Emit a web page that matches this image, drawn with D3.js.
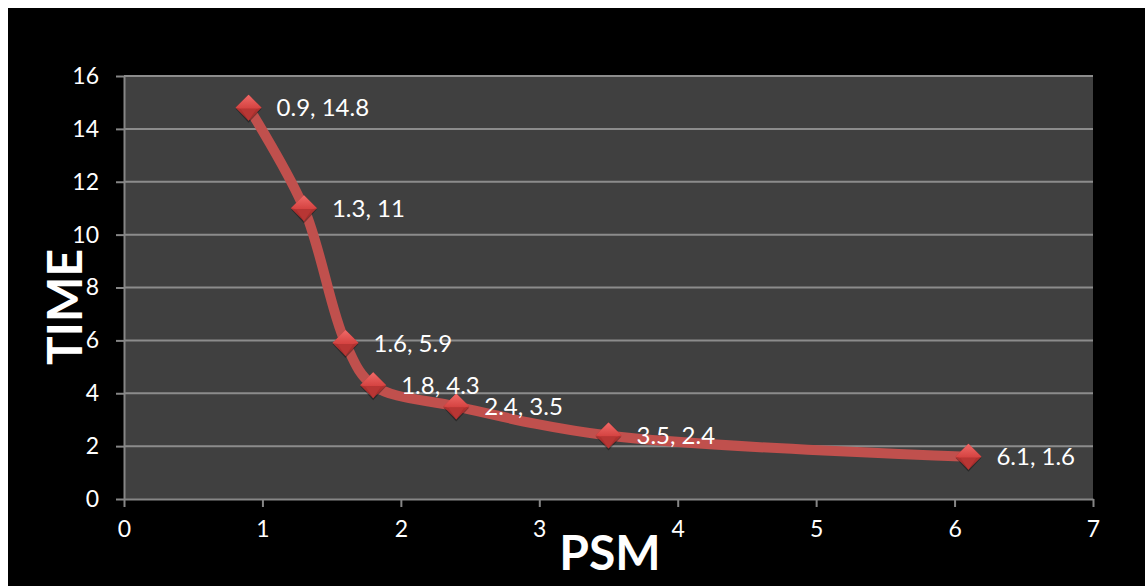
<!DOCTYPE html>
<html><head><meta charset="utf-8">
<script src="https://cdn.jsdelivr.net/npm/d3@7"></script>
<style>html,body{margin:0;padding:0;background:#fff;}svg{display:block;}</style>
</head><body>
<svg id="chart" width="1145" height="586"></svg>
<script>
const psm = [0.9, 1.3, 1.6, 1.8, 2.4, 3.5, 6.1];
const time = [14.8, 11, 5.9, 4.3, 3.5, 2.4, 1.6];
const labels = ["0.9, 14.8", "1.3, 11", "1.6, 5.9", "1.8, 4.3", "2.4, 3.5", "3.5, 2.4", "6.1, 1.6"];
const xTicks = [0, 1, 2, 3, 4, 5, 6, 7];
const yTicks = [0, 2, 4, 6, 8, 10, 12, 14, 16];
const xTitle = "PSM", yTitle = "TIME";

const font = "Lato, Carlito, Calibri, 'Open Sans', sans-serif";
const svg = d3.select("#chart");
svg.append("rect").attr("x", 8).attr("y", 8).attr("width", 1137).attr("height", 578).attr("fill", "#000");

const L = 124, R = 1093, T = 76, B = 499;
const x = d3.scaleLinear().domain([0, 7]).range([L, R]);
const y = d3.scaleLinear().domain([0, 16]).range([B, T]);

const defs = svg.append("defs");
const gTop = defs.append("linearGradient").attr("id", "dtop").attr("x1", 0).attr("y1", 0).attr("x2", 0).attr("y2", 1);
gTop.append("stop").attr("offset", "0%").attr("stop-color", "#f06a68");
gTop.append("stop").attr("offset", "100%").attr("stop-color", "#d44240");
const gBot = defs.append("linearGradient").attr("id", "dbot").attr("x1", 0).attr("y1", 0).attr("x2", 0).attr("y2", 1);
gBot.append("stop").attr("offset", "0%").attr("stop-color", "#c73a38");
gBot.append("stop").attr("offset", "100%").attr("stop-color", "#9e2a29");

svg.append("rect").attr("x", L).attr("y", T).attr("width", R - L).attr("height", B - T).attr("fill", "#404040");

// gridlines
svg.append("g").selectAll("line").data(yTicks.filter(d => d > 0)).join("line")
  .attr("x1", L).attr("x2", R).attr("y1", d => y(d)).attr("y2", d => y(d))
  .attr("stroke", "#8c8c8c").attr("stroke-width", 2);

// axes
const yAxis = svg.append("g").attr("transform", `translate(${L},0)`)
  .call(d3.axisLeft(y).tickValues(yTicks).tickFormat(d3.format("d")).tickSize(8).tickPadding(17).tickSizeOuter(0));
const xAxis = svg.append("g").attr("transform", `translate(0,${B})`)
  .call(d3.axisBottom(x).tickValues(xTicks).tickFormat(d3.format("d")).tickSize(8).tickPadding(14).tickSizeOuter(0));
[yAxis, xAxis].forEach(a => {
  a.select(".domain").attr("stroke", "#868686").attr("stroke-width", 2);
  a.selectAll(".tick line").attr("stroke", "#868686").attr("stroke-width", 2);
  a.selectAll("text").attr("fill", "#fff").style("font-family", font).style("font-size", "23px");
});

// line
const pts = psm.map((d, i) => [d, time[i]]);
svg.append("path").datum(pts)
  .attr("d", d3.line().x(d => x(d[0])).y(d => y(d[1])).curve(d3.curveCatmullRom.alpha(0.5)))
  .attr("fill", "none").attr("stroke", "#c0504d").attr("stroke-width", 10).attr("stroke-linecap", "round");

// markers
const s = 13;
const mk = svg.append("g").selectAll("g").data(pts).join("g")
  .attr("transform", d => `translate(${x(d[0])},${y(d[1])})`);
mk.append("path").attr("d", `M${-s},1 L0,${s + 2} L${s},1 Z`).attr("fill", "#000").attr("opacity", 0.35);
mk.append("path").attr("d", `M0,${-s} L${s},0 L0,${s} L${-s},0 Z`).attr("fill", "url(#dbot)");
mk.append("path").attr("d", `M0,${-s} L${s},0 L${s - 5},1 L${-s + 5},1 L${-s},0 Z`).attr("fill", "url(#dtop)");
mk.append("path").attr("d", `M${-s + 5},1 L${s - 5},1 L0,${s} Z`).attr("fill", "#b83634");

// labels
svg.append("g").selectAll("text").data(pts).join("text")
  .attr("x", d => x(d[0]) + 28).attr("y", d => y(d[1]))
  .attr("dy", "0.36em").attr("fill", "#fff")
  .style("font-family", font).style("font-size", "24px")
  .text((d, i) => labels[i]);

// titles
svg.append("text").attr("x", 610).attr("y", 570).attr("text-anchor", "middle")
  .attr("fill", "#fff").style("font-family", font).style("font-weight", "bold").style("font-size", "48px").text(xTitle);
svg.append("text").attr("transform", "translate(82,307) rotate(-90)").attr("text-anchor", "middle")
  .attr("fill", "#fff").style("font-family", font).style("font-weight", "bold").style("font-size", "48px").text(yTitle);
</script>
</body></html>
